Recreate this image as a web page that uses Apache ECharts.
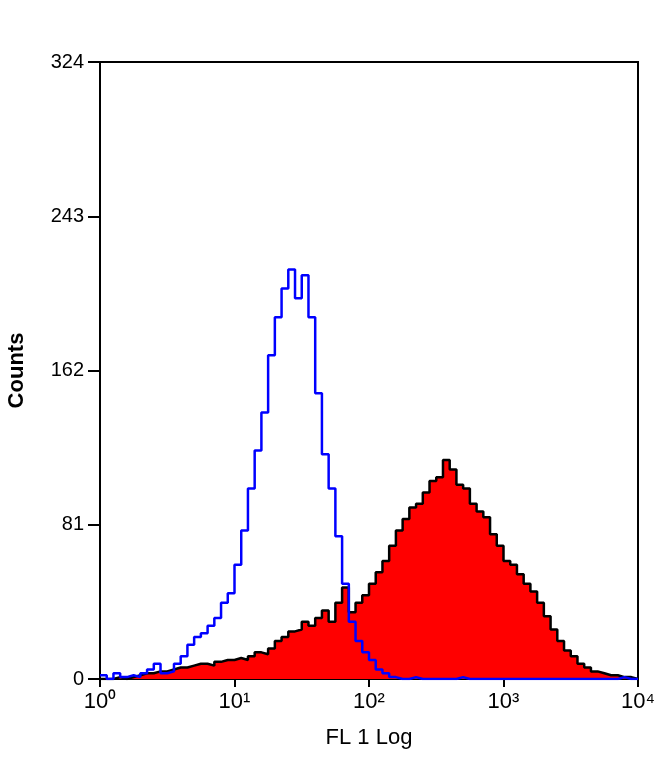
<!DOCTYPE html>
<html>
<head>
<meta charset="utf-8">
<script src="https://cdn.jsdelivr.net/npm/echarts@6/dist/echarts.min.js"></script>
<style>html,body{margin:0;background:#fff}#c{width:660px;height:764px}</style>
</head>
<body>
<div id="c"></div>
<script>
// channel positions in decades (log10 of FL1), one every 0.05 decade
var STEP = 0.05;
var yTicks = [0, 81, 162, 243, 324];
var xTickLabels = ['10\u2070', '10\u00b9', '10\u00b2', '10\u00b3', '10\u2074'];

// isotype control (blue outline)
var blueCounts = [2,0,3,1,2,1,3,5,8,3,4,8,12,18,22,24,28,32,40,45,
	60,78,100,120,140,170,190,205,215,200,212,190,150,118,100,75,50,30,20,14,
	10,5,3,1,0,0,1,0,0,0,0,0,0,1,0,0,0,0,0,0,
	0,0,0,0,0,0,0,0,0,0,0,0,0,0,0,0,0,1,0,0,0];
// stained sample (red fill, black outline)
var redCounts = [0,0,1,0,1,2,3,3,4,4,5,6,6,7,8,8,7,9,10,10,
	11,10,12,14,13,16,20,22,25,26,30,28,32,36,30,40,48,35,40,44,
	50,56,62,70,78,84,90,92,98,104,106,115,110,102,100,92,88,85,76,70,
	62,60,55,50,46,40,33,26,20,15,12,8,6,4,3,2,2,1,1,0,0];

function pairs(arr) {
	return arr.map(function(v, i){ return [i * STEP, v]; });
}

var chart = echarts.init(document.getElementById('c'));
chart.setOption({
	animation: false,
	grid: { left: 100, right: 22, top: 62, bottom: 85, outerBoundsMode: 'none', containLabel: false,
		show: true, borderColor: '#000', borderWidth: 2, backgroundColor: 'transparent' },
	xAxis: {
		type: 'value', min: 0, max: 4, interval: 1,
		name: 'FL 1 Log', nameLocation: 'middle', nameGap: 48,
		nameTextStyle: { fontSize: 22, color: '#000', fontFamily: 'Liberation Sans' },
		axisLine: { lineStyle: { color: '#000', width: 2 } },
		axisTick: { inside: false, length: 8, lineStyle: { color: '#000', width: 2 } },
		axisLabel: { fontSize: 22, color: '#000', margin: 12, fontFamily: 'Liberation Sans',
			formatter: function(v){ return xTickLabels[Math.round(v)]; } },
		splitLine: { show: false }
	},
	yAxis: {
		type: 'value', min: 0, max: 324, interval: 81,
		name: 'Counts', nameLocation: 'middle', nameGap: 72,
		nameTextStyle: { fontSize: 22, color: '#000', fontWeight: 'bold', fontFamily: 'Liberation Sans' },
		axisLine: { lineStyle: { color: '#000', width: 2 } },
		axisTick: { length: 12, lineStyle: { color: '#000', width: 2 } },
		axisLabel: { fontSize: 20, color: '#000', margin: 16, fontFamily: 'Liberation Sans' },
		splitLine: { show: false }
	},
	series: [
		{
			name: 'stained', type: 'line', step: 'end', symbol: 'none',
			data: pairs(redCounts),
			lineStyle: { color: '#000', width: 2.5 },
			areaStyle: { color: '#ff0000', opacity: 1 },
			z: 2
		},
		{
			name: 'control', type: 'line', step: 'end', symbol: 'none',
			data: pairs(blueCounts),
			lineStyle: { color: '#0000ff', width: 2.5 },
			z: 3
		}
	]
});
</script>
</body>
</html>
